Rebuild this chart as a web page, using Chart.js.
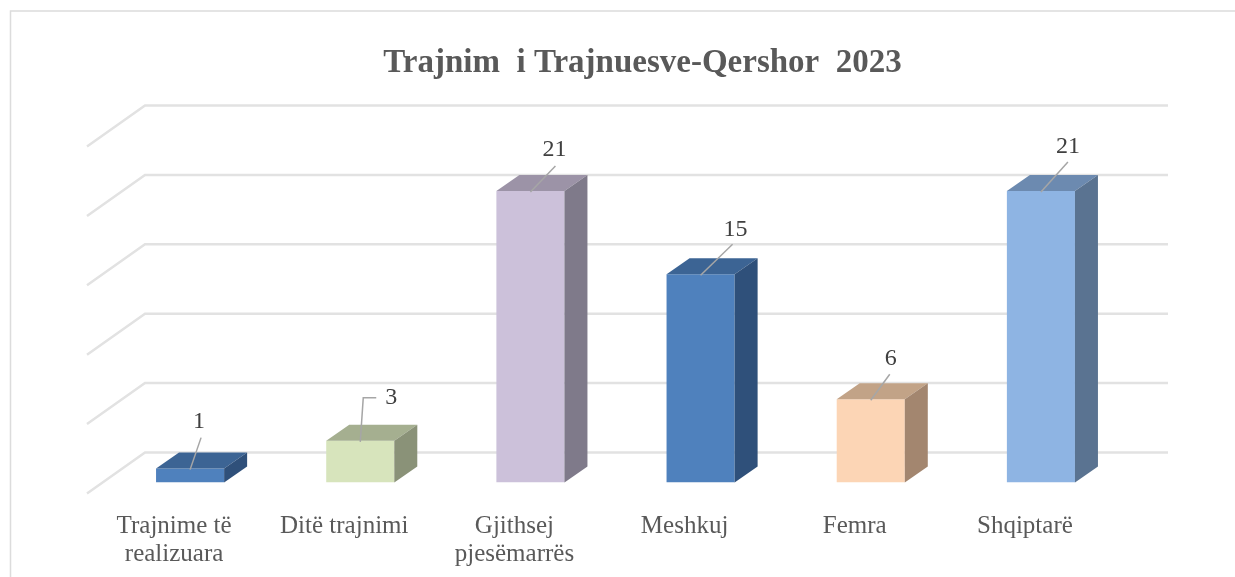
<!DOCTYPE html>
<html>
<head>
<meta charset="utf-8">
<title>Trajnim i Trajnuesve</title>
<script src="https://cdn.jsdelivr.net/npm/chart.js@4"></script>
<style>
  html, body { margin: 0; padding: 0; background: #fff; }
  #wrap { position: relative; width: 1235px; height: 577px; overflow: hidden; }
</style>
</head>
<body>
<div id="wrap"><canvas id="chart" width="1235" height="577"></canvas></div>
<script>
const categories = [["Trajnime të", "realizuara"], "Ditë trajnimi", ["Gjithsej", "pjesëmarrës"], "Meshkuj", "Femra", "Shqiptarë"];
const values = [1, 3, 21, 15, 6, 21];
const frontColors = ["#4f81bd", "#d7e4bc", "#ccc1da", "#4f81bd", "#fcd5b5", "#8eb4e3"];
const topColors = ["#3c6494", "#a5af90", "#9c93a7", "#3c6494", "#c2a387", "#6c8ab0"];
const sideColors = ["#2f507a", "#8a9278", "#7f7a8a", "#2f507a", "#a3866f", "#5a7391"];
const chartTitle = "Trajnim  i Trajnuesve-Qershor  2023";

const SERIF = '"Liberation Serif", "Times New Roman", serif';

// depth of the fake 3D box
const depthX = 23, depthY = 16;

const wallGrid = {
  id: "wallGrid",
  beforeDatasetsDraw(chart) {
    const { ctx, scales: { y } } = chart;
    ctx.save();
    ctx.strokeStyle = "#e2e2e2";
    ctx.lineWidth = 2.5;
    y.ticks.forEach(t => {
      const py = y.getPixelForValue(t.value);
      ctx.beginPath();
      ctx.moveTo(87, py + 11);
      ctx.lineTo(145, py - 30);
      ctx.lineTo(1168, py - 30);
      ctx.stroke();
    });
    ctx.restore();
  }
};

const boxes = {
  id: "boxes",
  afterDatasetsDraw(chart) {
    const ctx = chart.ctx;
    chart.getDatasetMeta(0).data.forEach((bar, i) => {
      const l = bar.x - bar.width / 2, r = bar.x + bar.width / 2;
      const t = bar.y, b = bar.base;
      ctx.fillStyle = topColors[i];
      ctx.beginPath();
      ctx.moveTo(l, t);
      ctx.lineTo(l + depthX, t - depthY);
      ctx.lineTo(r + depthX, t - depthY);
      ctx.lineTo(r, t);
      ctx.closePath();
      ctx.fill();
      ctx.fillStyle = sideColors[i];
      ctx.beginPath();
      ctx.moveTo(r, t);
      ctx.lineTo(r + depthX, t - depthY);
      ctx.lineTo(r + depthX, b - depthY);
      ctx.lineTo(r, b);
      ctx.closePath();
      ctx.fill();
    });
  }
};

// value labels sit away from the bar, joined by a grey leader line
const labelShift = [[9, -47], [31, -43], [24, -41], [35, -45], [20, -41], [27, -44]];
const leaderEnd = [[11, -31], [16, -43], [25, -25], [32, -30], [19, -25], [27, -29]];

const leaders = {
  id: "leaders",
  afterDraw(chart) {
    const ctx = chart.ctx;
    ctx.save();
    chart.getDatasetMeta(0).data.forEach((bar, i) => {
      ctx.strokeStyle = "#a6a6a6";
      ctx.lineWidth = 1.5;
      ctx.beginPath();
      ctx.moveTo(bar.x, bar.y + 1);
      if (i === 1) ctx.lineTo(bar.x + 3, bar.y + leaderEnd[i][1]);
      ctx.lineTo(bar.x + leaderEnd[i][0], bar.y + leaderEnd[i][1]);
      ctx.stroke();
      ctx.fillStyle = "#404040";
      ctx.font = "24px " + SERIF;
      ctx.textAlign = "center";
      ctx.textBaseline = "middle";
      ctx.fillText(String(values[i]), bar.x + labelShift[i][0], bar.y + labelShift[i][1]);
    });
    ctx.restore();
  }
};

const frame = {
  id: "frame",
  beforeDraw(chart) {
    const ctx = chart.ctx;
    ctx.save();
    ctx.strokeStyle = "#dcdcdc";
    ctx.lineWidth = 1.5;
    ctx.beginPath();
    ctx.moveTo(10.5, 577);
    ctx.lineTo(10.5, 11);
    ctx.lineTo(1235, 11);
    ctx.stroke();
    // title is off centre in the picture, so it is drawn here
    ctx.fillStyle = "#595959";
    ctx.font = "bold 33px " + SERIF;
    ctx.textAlign = "center";
    ctx.textBaseline = "middle";
    ctx.fillText(chartTitle, 642.5, 63);
    ctx.restore();
  }
};

new Chart(document.getElementById("chart"), {
  type: "bar",
  data: {
    labels: categories,
    datasets: [{
      data: values,
      backgroundColor: frontColors,
      barPercentage: 0.8,
      categoryPercentage: 0.5
    }]
  },
  plugins: [frame, wallGrid, boxes, leaders],
  options: {
    responsive: false,
    animation: false,
    layout: { padding: { left: 105, right: 109, top: 135.5, bottom: 0 } },
    plugins: {
      legend: { display: false },
      tooltip: { enabled: false },
      title: { display: false }
    },
    scales: {
      x: {
        grid: { display: false },
        border: { display: false },
        afterFit(scale) { scale.height = 94.5; },
        ticks: {
          color: "#595959",
          font: { family: SERIF, size: 25, lineHeight: 1.12 },
          maxRotation: 0,
          autoSkip: false,
          padding: 22,
          labelOffset: -16
        }
      },
      y: {
        min: 0,
        max: 25,
        grid: { display: false },
        border: { display: false },
        afterFit(scale) { scale.width = 0; },
        ticks: { stepSize: 5, display: false }
      }
    }
  }
});
</script>
</body>
</html>
